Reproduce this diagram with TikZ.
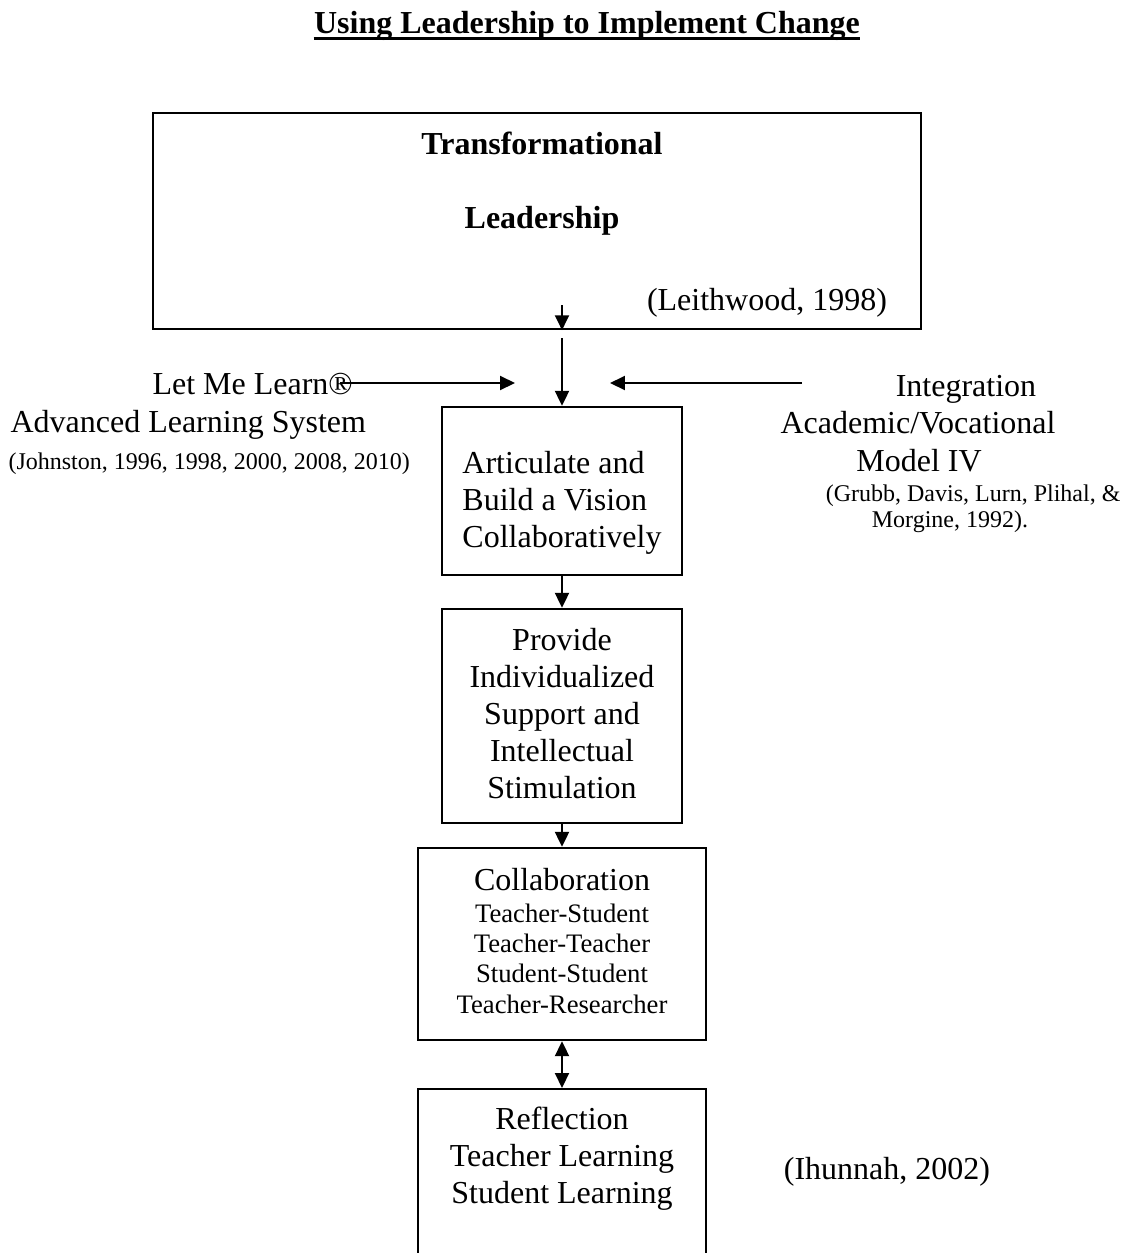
\documentclass[tikz,border=0pt]{standalone}
\usepackage{fontspec}
\setmainfont{Liberation Serif}
\usetikzlibrary{arrows.meta,positioning}

\tikzset{
  box/.style={draw, line width=0.9pt, inner sep=0pt, align=center,
    font=\fontsize{12}{13.9}\selectfont},
  txt/.style={inner sep=0pt, align=center, font=\fontsize{12}{13.9}\selectfont},
  cite/.style={inner sep=0pt, align=center, font=\fontsize{9}{10.5}\selectfont},
  flow/.style={-{Triangle[length=5.6pt,width=5.2pt]}, line width=0.9pt},
  flowboth/.style={{Triangle[length=5.6pt,width=5.2pt]}-{Triangle[length=5.6pt,width=5.2pt]}, line width=0.9pt},
}

\begin{document}
\begin{tikzpicture}[x=0.375pt,y=-0.375pt]
  \useasboundingbox (0,0) rectangle (1125,1253);
  \clip (0,0) rectangle (1125,1253);

  % title
  \node[txt, anchor=base] (title) at (587,33)
    {\textbf{Using Leadership to Implement Change}};
  \draw[line width=1.1pt] ([yshift=-1.9pt]title.base west) -- ([yshift=-1.9pt]title.base east);

  % leadership box
  \node[box, minimum width=768*0.375pt, minimum height=216*0.375pt] (tl) at (537,221) {};
  \node[txt, anchor=base] (tlone) at (542,154) {\textbf{Transformational}};
  \node[txt, anchor=base] (tltwo) at (542,228) {\textbf{Leadership}};
  \node[txt, anchor=base] (tlcite) at (767,310) {(Leithwood, 1998)};

  % flow boxes
  \node[box, minimum width=240*0.375pt, minimum height=168*0.375pt] (avb) at (562,491) {};
  \node[txt, align=left] (avbtxt) at ([yshift=-4.5pt]avb.center)
    {Articulate and\\Build a Vision\\Collaboratively};
  \node[box, minimum width=240*0.375pt, minimum height=214*0.375pt] (pis) at (562,716) {};
  \node[txt] (pistxt) at ([yshift=1pt]pis.center)
    {Provide\\Individualized\\Support and\\Intellectual\\Stimulation};
  \node[box, minimum width=288*0.375pt, minimum height=192*0.375pt] (collab) at (562,944) {};
  \node[txt, font=\fontsize{10}{11.4}\selectfont] (collabtxt) at ([yshift=1.2pt]collab.center)
    {{\fontsize{12}{13.9}\selectfont Collaboration}\\[0.5pt]Teacher-Student\\Teacher-Teacher\\Student-Student\\Teacher-Researcher};
  \node[box, anchor=north, minimum width=288*0.375pt, minimum height=260*0.375pt] (refl) at (562,1088) {};
  \node[txt] (refltxt) at (562,1159) {Reflection\\Teacher Learning\\Student Learning};
  \node[txt] (ihun) at (887,1172) {(Ihunnah, 2002)};

  % left side
  \node[txt, anchor=base west] (lml) at (152,394) {Let Me Learn®};
  \node[txt, anchor=base west] (als) at (10,432) {Advanced Learning System};
  \node[cite, anchor=base west] (jcite) at (8,469) {(Johnston, 1996, 1998, 2000, 2008, 2010)};

  % right side
  \node[txt, anchor=base] (integ) at (966,396) {Integration};
  \node[txt, anchor=base] (acvo) at (918,433) {Academic/Vocational};
  \node[txt, anchor=base] (modiv) at (919,471) {Model IV};
  \node[cite, anchor=base east] (grubb) at (1121,501) {(Grubb, Davis, Lurn, Plihal, \&};
  \node[cite, anchor=base] (morg) at (950,527) {Morgine, 1992).};

  % connectors
  \coordinate (tlin) at (562,305);
  \coordinate (tlout) at (562,338);
  \coordinate (lmltip) at (515,383);
  \coordinate (intfrom) at (802,383);
  \coordinate (inttip) at (610,383);
  \draw[flow] (tlin) -- (tlin |- tl.south);
  \draw[flow] (tlout) -- (avb.north);
  \draw[flow] ([xshift=-5pt]lml.east |- lmltip) -- (lmltip);
  \draw[flow] (intfrom) -- (inttip);
  \draw[flow] (avb.south) -- (pis.north);
  \draw[flow] (pis.south) -- (collab.north);
  \draw[flowboth] (collab.south) -- (refl.north);
\end{tikzpicture}
\end{document}
